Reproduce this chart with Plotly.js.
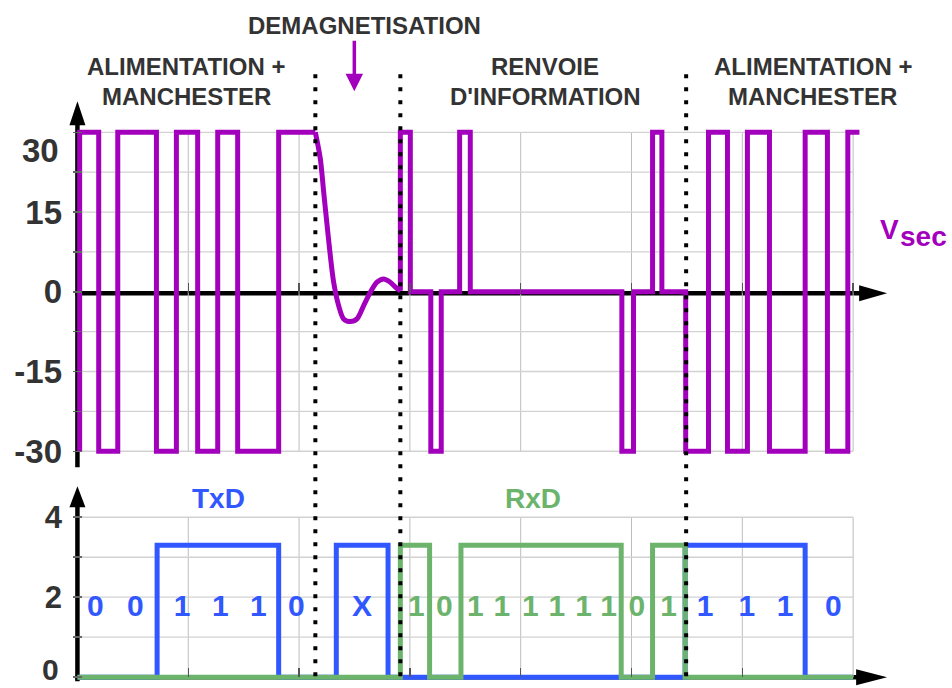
<!DOCTYPE html>
<html>
<head>
<meta charset="utf-8">
<script src="https://cdn.plot.ly/plotly-3.0.1.min.js"></script>
<style>html,body{margin:0;padding:0;background:#fff;}#chart{width:952px;height:688px;}</style>
</head>
<body>
<div id="chart"></div>
<script>
// ---------- DATA ----------
// Vsec, first Manchester section: edge times and levels (hv steps)
const vsecA_t = [0.02, 0.02, 0.192, 0.364, 0.713, 0.893, 1.085, 1.266, 1.446, 1.816, 2.147];
const vsecA_v = [-30, 30, -30, 30, -30, 30, -30, 30, -30, 30, 30];
// Vsec demagnetisation ringing
const demagT = [2.147, 2.192, 2.222, 2.253, 2.282, 2.312, 2.357, 2.402, 2.463, 2.523, 2.583, 2.643, 2.703, 2.763, 2.823, 2.884, 2.914];
const demagV = [30, 25, 18.8, 12.5, 6.8, 1.8, -2.6, -5.1, -5.6, -5.1, -2.6, -0.1, 1.8, 2.4, 1.8, 0.6, 0.2];
// Vsec, information return + second Manchester section
const vsecB_t = [2.914, 2.914, 3.004, 3.189, 3.283, 3.449, 3.545, 4.913, 5.018, 5.190, 5.274, 5.489, 5.695, 5.866, 6.046, 6.245, 6.567, 6.768, 6.952, 7.057];
const vsecB_v = [0.2, 30, 0, -30, 0, 30, 0, -30, 0, 30, 0, -30, 30, -30, 30, -30, 30, -30, 30, 30];
// TxD / RxD logic levels
const txdT = [0, 0.719, 1.816, 2.336, 2.803, 5.484, 6.567, 7.0];
const txdV = [0, 3.3, 0, 3.3, 0, 3.3, 0, 0];
const rxdT = [0, 2.914, 3.178, 3.461, 4.907, 5.190, 5.484, 7.0];
const rxdV = [0, 3.3, 0, 3.3, 0, 3.3, 0, 0];
// bit labels
const txdBitX = [0.162, 0.523, 0.944, 1.290, 1.633, 1.975, 2.568, 5.665, 6.041, 6.387, 6.822];
const txdBitText = ['0', '0', '1', '1', '1', '0', 'X', '1', '1', '1', '0'];
const rxdBitX = [3.058, 3.310, 3.590, 3.831, 4.086, 4.327, 4.567, 4.793, 5.049, 5.334];
const rxdBitText = ['1', '0', '1', '1', '1', '1', '1', '1', '0', '1'];
const bitLabelLevel = 1.71;
// phase boundaries (dotted lines)
const phaseBounds = [2.147, 2.914, 5.493];
// axis ticks / grid
const topTickVals = [-30, -22.5, -15, -7.5, 0, 7.5, 15, 22.5, 30];
const topTickText = ['-30', '', '-15', '', '0', '', '15', '', ''];
const botTickVals = [0, 1, 2, 3, 4];
const botTickText = ['', '', '2', '', '4'];
const gridX = [1, 2, 3, 4, 5, 6, 7];
const topGridY = [-30, -22.5, -15, -7.5, 7.5, 15, 22.5, 30];
const botGridY = [1, 2, 3, 4];
const phaseTitles = ['ALIMENTATION +', 'MANCHESTER', 'RENVOIE', "D'INFORMATION", 'ALIMENTATION +', 'MANCHESTER'];

// ---------- GEOMETRY ----------
const W = 952, H = 688;
const X0PX = 77, X7PX = 853, ux = (X7PX - X0PX) / 7;
const xRange = [-0.04, 7.08];
const plotLeft = X0PX + xRange[0] * ux, plotRight = X0PX + xRange[1] * ux;
const Y30PX = 132, YM30PX = 451, uy1 = (YM30PX - Y30PX) / 60;
const yRange1 = [-31, 31];
const top1 = Y30PX - (yRange1[1] - 30) * uy1, bottom1 = YM30PX + (-30 - yRange1[0]) * uy1;
const Y4PX = 517, Y0PX = 677, uy2 = (Y0PX - Y4PX) / 4;
const yRange2 = [-0.12, 4.12];
const top2 = Y4PX - (yRange2[1] - 4) * uy2, bottom2 = Y0PX + (0 - yRange2[0]) * uy2;
const plotH = bottom2 - top1, plotW = plotRight - plotLeft;
const px = v => (v - plotLeft) / plotW;
const py = v => (bottom2 - v) / plotH;

const FONT = 'Liberation Sans, Arial, Helvetica, sans-serif';
const PURPLE = '#a300bd', BLUE = '#3157ff', GREEN = '#6cb46c', DARK = '#333333';

// ---------- TRACES ----------
const lineStyle = (c, shape) => ({color: c, width: 5, shape: shape});
const traces = [
  {x: vsecA_t, y: vsecA_v, mode: 'lines', line: lineStyle(PURPLE, 'hv'), xaxis: 'x', yaxis: 'y', hoverinfo: 'skip'},
  {x: demagT, y: demagV, mode: 'lines', line: Object.assign(lineStyle(PURPLE, 'spline'), {smoothing: 0.8}), xaxis: 'x', yaxis: 'y', hoverinfo: 'skip'},
  {x: vsecB_t, y: vsecB_v, mode: 'lines', line: lineStyle(PURPLE, 'hv'), xaxis: 'x', yaxis: 'y', hoverinfo: 'skip'},
  {x: txdT, y: txdV, mode: 'lines', line: lineStyle(BLUE, 'hv'), xaxis: 'x2', yaxis: 'y2', hoverinfo: 'skip'},
  {x: rxdT, y: rxdV, mode: 'lines', line: lineStyle(GREEN, 'hv'), xaxis: 'x2', yaxis: 'y2', hoverinfo: 'skip'},
  {x: txdBitX, y: txdBitX.map(() => bitLabelLevel), text: txdBitText, mode: 'text', textposition: 'middle center',
   textfont: {family: FONT, size: 30, color: BLUE, weight: 'bold'}, cliponaxis: false, xaxis: 'x2', yaxis: 'y2', hoverinfo: 'skip'},
  {x: rxdBitX, y: rxdBitX.map(() => bitLabelLevel), text: rxdBitText, mode: 'text', textposition: 'middle center',
   textfont: {family: FONT, size: 30, color: GREEN, weight: 'bold'}, cliponaxis: false, xaxis: 'x2', yaxis: 'y2', hoverinfo: 'skip'}
];

// ---------- SHAPES ----------
const shapes = [];
gridX.forEach(g => {
  shapes.push({type: 'line', xref: 'x', yref: 'y', x0: g, x1: g, y0: -30, y1: 30, line: {color: '#bdbdbd', width: 1}, layer: 'below'});
  shapes.push({type: 'line', xref: 'x2', yref: 'y2', x0: g, x1: g, y0: 0, y1: 4, line: {color: '#bdbdbd', width: 1}, layer: 'below'});
});
topGridY.forEach(g => shapes.push({type: 'line', xref: 'x', yref: 'y', x0: 0, x1: 7, y0: g, y1: g, line: {color: '#d2d2d2', width: 1.3}, layer: 'below'}));
botGridY.forEach(g => shapes.push({type: 'line', xref: 'x2', yref: 'y2', x0: 0, x1: 7, y0: g, y1: g, line: {color: '#d2d2d2', width: 1.3}, layer: 'below'}));

function pline(x0, y0, x1, y1, w) {
  return {type: 'line', xref: 'paper', yref: 'paper', x0: px(x0), y0: py(y0), x1: px(x1), y1: py(y1), line: {color: '#000', width: w}, layer: 'below'};
}
function ptri(pts) {
  const d = pts.map((p, i) => (i ? 'L' : 'M') + px(p[0]) + ',' + py(p[1])).join(' ') + ' Z';
  return {type: 'path', xref: 'paper', yref: 'paper', path: d, fillcolor: '#000', line: {color: '#000', width: 0}, layer: 'below'};
}
// axes with arrows
shapes.push(pline(77, 467, 77, 118, 4.5));
shapes.push(ptri([[77, 101], [69, 125], [85, 125]]));
shapes.push(pline(75, 293, 862, 293, 4.5));
shapes.push(ptri([[887, 293], [859, 285], [859, 301]]));
shapes.push(pline(77, 681, 77, 502, 4.5));
shapes.push(ptri([[77, 486], [69, 507], [85, 507]]));
shapes.push(pline(75, 677, 860, 677, 4.5));
shapes.push(ptri([[887, 677], [856, 669], [856, 685]]));
// dotted phase boundaries
phaseBounds.forEach(b => shapes.push({type: 'line', xref: 'x', yref: 'paper', x0: b, x1: b, y0: py(74), y1: py(677),
  line: {color: '#000', width: 4, dash: '4px,9px'}, layer: 'above'}));

// ---------- ANNOTATIONS ----------
const hdr = (t, x, y) => ({text: t, xref: 'paper', yref: 'paper', x: px(x), y: py(y), xanchor: 'center', yanchor: 'middle',
  showarrow: false, font: {family: FONT, size: 24, color: DARK, weight: 'bold'}});
const annotations = [
  hdr('DEMAGNETISATION', 364, 25),
  hdr(phaseTitles[0], 186, 66), hdr(phaseTitles[1], 186, 96),
  hdr(phaseTitles[2], 545, 66), hdr(phaseTitles[3], 545, 96),
  hdr(phaseTitles[4], 813, 66), hdr(phaseTitles[5], 812, 96),
  {text: '', xref: 'paper', yref: 'paper', x: px(354), y: py(91), ax: 0, ay: -52, axref: 'pixel', ayref: 'pixel',
   showarrow: true, arrowhead: 2, arrowsize: 1, arrowwidth: 3.5, arrowcolor: PURPLE, standoff: 0},
  {text: 'TxD', xref: 'paper', yref: 'paper', x: px(218), y: py(498), xanchor: 'center', yanchor: 'middle', showarrow: false,
   font: {family: FONT, size: 28, color: BLUE, weight: 'bold'}},
  {text: 'RxD', xref: 'paper', yref: 'paper', x: px(533), y: py(498), xanchor: 'center', yanchor: 'middle', showarrow: false,
   font: {family: FONT, size: 28, color: GREEN, weight: 'bold'}},
  {text: 'V', xref: 'paper', yref: 'paper', x: px(878), y: py(229), xanchor: 'left', yanchor: 'middle', showarrow: false,
   font: {family: FONT, size: 28, color: PURPLE, weight: 'bold'}},
  {text: 'sec', xref: 'paper', yref: 'paper', x: px(898), y: py(236), xanchor: 'left', yanchor: 'middle', showarrow: false,
   font: {family: FONT, size: 28, color: PURPLE, weight: 'bold'}},
  {text: '30', xref: 'paper', yref: 'paper', x: px(61), y: py(150), xanchor: 'right', yanchor: 'middle', showarrow: false,
   font: {family: FONT, size: 33, color: DARK, weight: 'bold'}},
  {text: '0', xref: 'paper', yref: 'paper', x: px(61), y: py(688), xanchor: 'right', yanchor: 'bottom', showarrow: false,
   font: {family: FONT, size: 30, color: DARK, weight: 'bold'}}
];

const tickFontTop = {family: FONT, size: 33, color: DARK, weight: 'bold'};
const tickFontBot = {family: FONT, size: 31, color: DARK, weight: 'bold'};

const layout = {
  width: W, height: H,
  margin: {l: plotLeft, r: W - plotRight, t: top1, b: H - bottom2, pad: 0},
  paper_bgcolor: '#ffffff', plot_bgcolor: 'rgba(0,0,0,0)',
  showlegend: false,
  xaxis: {domain: [0, 1], range: xRange, anchor: 'free', position: py(293), showgrid: false, zeroline: false, showline: false,
    ticks: 'inside', ticklen: 10, tickwidth: 1.5, tickcolor: '#555', tickvals: gridX, showticklabels: false, fixedrange: true},
  yaxis: {domain: [(bottom2 - bottom1) / plotH, 1], range: yRange1, anchor: 'x', showgrid: false, zeroline: false, showline: false,
    ticks: 'inside', ticklen: 9, tickwidth: 1.5, tickcolor: '#666', tickvals: topTickVals, ticktext: topTickText,
    tickfont: tickFontTop, ticklabelstandoff: 10, ticklabeloverflow: 'allow', fixedrange: true},
  xaxis2: {domain: [0, 1], range: xRange, anchor: 'free', position: py(677), showgrid: false, zeroline: false, showline: false,
    ticks: 'inside', ticklen: 9, tickwidth: 1.5, tickcolor: '#555', tickvals: gridX.slice(0, 6), showticklabels: false, fixedrange: true},
  yaxis2: {domain: [0, (bottom2 - top2) / plotH], range: yRange2, anchor: 'x2', showgrid: false, zeroline: false, showline: false,
    ticks: 'inside', ticklen: 9, tickwidth: 1.5, tickcolor: '#666', tickvals: botTickVals, ticktext: botTickText,
    tickfont: tickFontBot, ticklabelstandoff: 10, ticklabeloverflow: 'allow', fixedrange: true},
  shapes: shapes,
  annotations: annotations
};

Plotly.newPlot('chart', traces, layout, {staticPlot: true, displayModeBar: false});
</script>
</body>
</html>
